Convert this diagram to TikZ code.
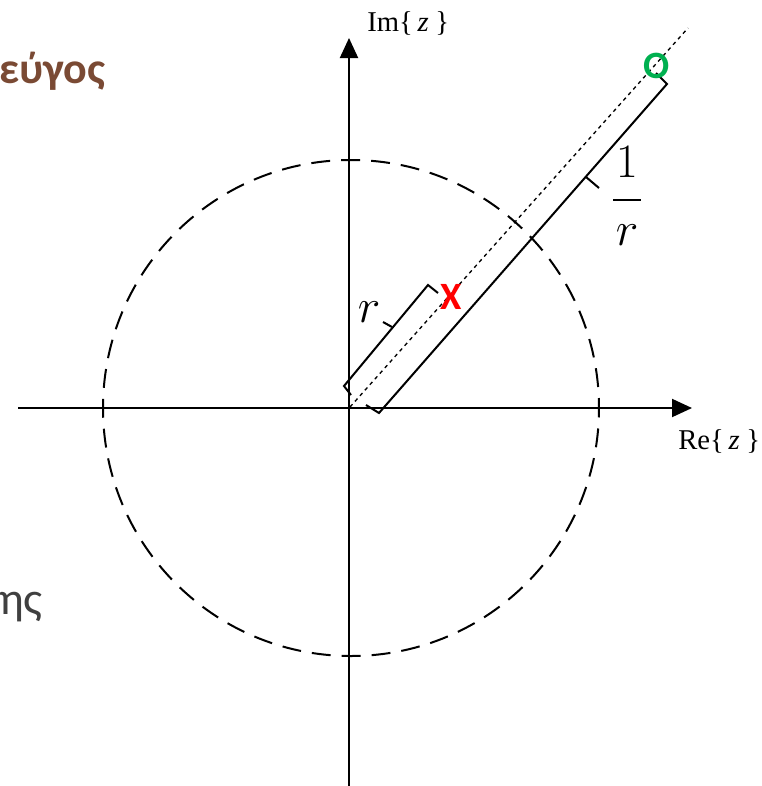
\RequirePackage{fix-cm}
\documentclass[tikz,border=0pt]{standalone}
\usepackage{fontspec}
\setmainfont{Liberation Serif}
\newfontfamily\carlito{Carlito}
\usetikzlibrary{arrows.meta}
\definecolor{brownT}{RGB}{122,74,52}
\definecolor{grayT}{RGB}{64,64,64}
\definecolor{redX}{RGB}{255,0,0}
\definecolor{greenO}{RGB}{0,176,80}
\begin{document}
\begin{tikzpicture}[x=0.75pt,y=-0.75pt,
  axis/.style={line width=1.5pt,-{Triangle[length=15pt,width=13.5pt]}},
  bracebox/.style={line width=1.5pt,line join=miter},
  circ/.style={line width=1.5pt,dash pattern=on 14.2pt off 8.27pt,dash phase=7.1pt},
  dotline/.style={line width=1pt,dash pattern=on 2.8pt off 2.8pt},
  marker/.style={inner sep=0pt,font=\carlito\bfseries\fontsize{29}{34}\selectfont},
  mathlbl/.style={inner sep=0pt,font=\fontsize{36}{42}\selectfont},
  axlbl/.style={inner sep=0pt,anchor=base west,font=\fontsize{21.5}{25}\selectfont}]
\useasboundingbox (0,0) rectangle (762,786);
% axes
\coordinate (xL) at (18,408);
\coordinate (xR) at (692,408);
\coordinate (yB) at (349,790);
\coordinate (yT) at (349,38);
\draw[axis] (xL) -- (xR);
\draw[axis] (yB) -- (yT);
% unit circle
\coordinate (C) at (351,408);
\draw[circ] (C) circle[radius=248];
% dotted ray
\coordinate (O) at (350,407);
\coordinate (rayEnd) at (688,28);
\draw[dotline] (O) -- (rayEnd);
% bracket r
\coordinate (a1) at (351,395);
\coordinate (a2) at (344,386);
\coordinate (a3) at (428,285);
\coordinate (a4) at (438,293);
\coordinate (am) at (392,327);
\coordinate (amt) at (383,322);
\draw[bracebox] (a1) -- (a2) -- (a3) -- (a4);
\draw[bracebox] (am) -- (amt);
% bracket 1/r
\coordinate (b1) at (366,405);
\coordinate (b2) at (379,413);
\coordinate (b3) at (667,84);
\coordinate (b4) at (656,73);
\coordinate (bm) at (586,177);
\coordinate (bmt) at (599,188);
\draw[bracebox] (b1) -- (b2) -- (b3) -- (b4);
\draw[bracebox] (bm) -- (bmt);
% markers
\node[marker,text=redX] (pole) at (451,297) {X};
\node[marker,text=greenO] (zero) at (656.5,65.5) {O};
% labels
\node[mathlbl,anchor=base] (rlbl) at (369,322) {$r$};
\node[mathlbl,anchor=base] (one) at (627,177) {$1$};
\coordinate (barL) at (613,200);
\coordinate (barR) at (641,200);
\draw[line width=1.5pt] (barL) -- (barR);
\node[mathlbl,anchor=base] (den) at (627,245) {$r$};
\node[axlbl] (imlbl) at (367,31) {Im\{\kern3.5pt\textit{z}\kern5pt\}};
\node[axlbl] (relbl) at (678,449) {Re\{\kern3.5pt\textit{z}\kern5pt\}};
% partial slide texts
\node[inner sep=0pt,anchor=base west,text=brownT,font=\carlito\bfseries\fontsize{33}{39}\selectfont] (title) at (-1,83) {εύγος};
\node[inner sep=0pt,anchor=base west,text=grayT,font=\carlito\fontsize{34.5}{40}\selectfont] (body) at (-1,614) {ης};
\end{tikzpicture}
\end{document}
